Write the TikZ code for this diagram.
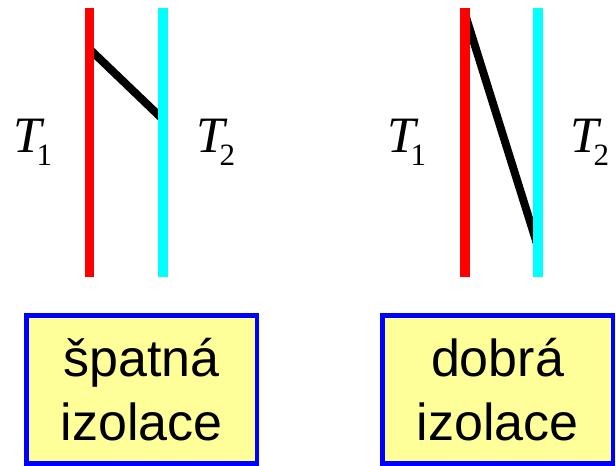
\documentclass[tikz,border=0pt]{standalone}
\usepackage{fontspec}
\setmainfont{Liberation Sans}
\newfontfamily\tnr{Liberation Serif}
\definecolor{boxfill}{RGB}{255,255,153}
\definecolor{hotred}{RGB}{255,0,0}
\definecolor{coldcyan}{RGB}{0,255,255}
\definecolor{edgeblue}{RGB}{0,0,255}
\tikzset{
  hot/.style={draw=hotred, line width=9.5pt},
  cold/.style={draw=coldcyan, line width=10pt},
  heat/.style={draw=black, line width=8pt},
  tlbl/.style={anchor=base west, inner sep=0pt, font=\fontsize{51}{51}\selectfont\tnr\itshape},
  boxst/.style={draw=edgeblue, fill=boxfill, line width=4.5pt, minimum width=230.5pt, minimum height=148pt, inner sep=0pt},
  boxtxt/.style={align=center, inner sep=0pt, font=\fontsize{52}{64}\selectfont}
}
\newcommand{\lab}[2]{#1\kern-5pt\raisebox{-13pt}{\fontsize{31}{31}\selectfont\upshape #2}}
\begin{document}
\begin{tikzpicture}[x=1pt,y=-1pt]
\useasboundingbox (0,0) rectangle (616,466);
% left panel
\coordinate (r1t) at (89.5,8);
\coordinate (r1b) at (89.5,277);
\coordinate (c1t) at (162.5,8);
\coordinate (c1b) at (162.5,277);
\coordinate (h1) at (89.5,49);
\coordinate (k1) at (162.5,119);
\draw[heat] (h1) -- (k1);
\draw[hot] (r1t) -- (r1b);
\draw[cold] (c1t) -- (c1b);
% right panel
\coordinate (r2t) at (465,8);
\coordinate (r2b) at (465,277);
\coordinate (c2t) at (538,8);
\coordinate (c2b) at (538,277);
\coordinate (h2) at (465,14);
\coordinate (k2) at (538,247);
\draw[heat] (h2) -- (k2);
\draw[hot] (r2t) -- (r2b);
\draw[cold] (c2t) -- (c2b);
% labels
\node[tlbl] (t1a) at (13,152) {\lab{T}{1}};
\node[tlbl] (t2a) at (196,152) {\lab{T}{2}};
\node[tlbl] (t1b) at (387,152) {\lab{T}{1}};
\node[tlbl] (t2b) at (570,152) {\lab{T}{2}};
% boxes
\node[boxst] (bad) at (141.5,389.5) {};
\node[boxst] (good) at (497.5,389.5) {};
\node[boxtxt] (badtxt) at (bad.center) {špatná\\izolace};
\node[boxtxt] (goodtxt) at (good.center) {dobrá\\izolace};
\end{tikzpicture}
\end{document}
